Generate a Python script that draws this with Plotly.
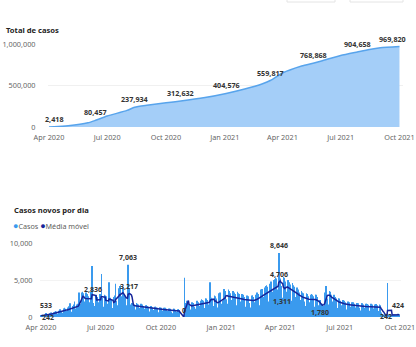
import plotly.graph_objects as go
import pandas as pd

# ---------------- DATA ----------------
# Total de casos (cumulative), key points
cum_dates = ["2020-04-01", "2020-04-09", "2020-05-01", "2020-06-01", "2020-06-13",
             "2020-07-01", "2020-08-01", "2020-08-13", "2020-09-01", "2020-10-01",
             "2020-10-24", "2020-12-01", "2021-01-03", "2021-02-01", "2021-03-01",
             "2021-03-13", "2021-04-01", "2021-05-01", "2021-05-19", "2021-06-01",
             "2021-07-01", "2021-07-27", "2021-08-15", "2021-09-01", "2021-10-01"]
cum_vals = [800, 2418, 14000, 50000, 80457,
            132000, 200000, 237934, 262000, 292000,
            312632, 355000, 404576, 458000, 522000,
            559817, 650000, 735000, 768868, 795000,
            862000, 904658, 935000, 955000, 969820]

top_lbl_dates = ["2020-04-09", "2020-06-13", "2020-08-13", "2020-10-24", "2021-01-03",
                 "2021-03-13", "2021-05-19", "2021-07-27", "2021-10-01"]
top_lbl_vals = [2418, 80457, 237934, 312632, 404576, 559817, 768868, 904658, 969820]

# Casos novos por dia (daily, starting 2020-04-01)
casos = [
    180, 220, 300, 260, 150, 200, 330,
    420, 533, 380, 300, 190, 260, 450,
    520, 610, 560, 430, 280, 350, 640,
    700, 820, 760, 580, 360, 450, 850,
    900, 1050, 980, 760, 450, 590, 1100,
    1150, 1250, 1100, 850, 520, 640, 1300,
    1300, 1450, 1850, 1000, 600, 720, 1500,
    1500, 1700, 2100, 1150, 700, 850, 1700,
    1800, 2000, 3300, 3100, 1500, 1800, 3300,
    3400, 3200, 2900, 2100, 1200, 1500, 3300,
    3000, 3100, 2800, 2000, 1300, 1600, 3400,
    3100, 6900, 2800, 1900, 1100, 1500, 2900,
    3000, 2900, 2700, 2000, 1200, 1500, 3100,
    3000, 5800, 2600, 1900, 1100, 1400, 3000,
    2900, 2800, 2500, 1800, 1000, 1300, 4700,
    2600, 2500, 2300, 1600, 900, 1200, 2700,
    2800, 2900, 4500, 2200, 1300, 1600, 3500,
    3900, 4200, 4300, 2800, 1700, 2000, 4000,
    3300, 3000, 2700, 2000, 1300, 1600, 3800,
    7063, 3900, 2400, 1700, 900, 1100, 1900,
    1900, 1800, 1700, 1300, 800, 1000, 1900,
    1800, 1700, 1600, 1200, 700, 900, 1800,
    1700, 1600, 1500, 1100, 700, 800, 1600,
    1600, 1500, 1400, 1000, 650, 750, 1500,
    1500, 1400, 1300, 950, 600, 700, 1400,
    1400, 1300, 1250, 900, 550, 650, 1300,
    1300, 1250, 1150, 850, 500, 600, 1250,
    1250, 1200, 1100, 800, 480, 560, 1150,
    1150, 1100, 1000, 750, 450, 520, 1100,
    1100, 1050, 950, 700, 420, 500, 1050,
    1050, 950, 0, 0, 0, 0, 0,
    0, 0, 5300, 1900, 1200, 1300, 2200,
    1900, 1800, 1700, 1300, 800, 1000, 2000,
    2000, 1900, 1800, 1400, 900, 1100, 2100,
    2200, 2100, 2000, 1500, 900, 1100, 2200,
    2400, 2300, 2200, 1600, 1000, 1200, 2500,
    2500, 2400, 2300, 1700, 1100, 1300, 4700,
    2700, 2600, 2500, 1800, 1200, 1500, 2900,
    2800, 2500, 1400, 1200, 1300, 1800, 3200,
    3300, 3000, 1500, 1800, 1600, 2200, 3800,
    3600, 3500, 3300, 2400, 1500, 1800, 3700,
    3500, 3400, 3200, 2300, 1400, 1700, 3500,
    3400, 3300, 3100, 2200, 1400, 1600, 3400,
    3200, 3100, 2900, 2100, 1300, 1500, 3100,
    3000, 2900, 2700, 2000, 1200, 1400, 2900,
    2900, 2800, 2600, 1900, 1100, 1300, 2800,
    2900, 2900, 2700, 2000, 1200, 1400, 3000,
    3200, 3300, 3100, 2300, 1400, 1600, 3500,
    3700, 3800, 3600, 2700, 1600, 1900, 4000,
    4200, 4300, 4100, 3000, 1800, 2100, 4500,
    4700, 4800, 4600, 3400, 2000, 2400, 5000,
    5100, 5300, 5200, 3700, 2200, 2600, 8646,
    6600, 5200, 4200, 3000, 1311, 2600, 5400,
    5300, 5100, 4800, 3400, 2000, 2400, 5000,
    4900, 4700, 4400, 3100, 1800, 2200, 4600,
    4300, 4100, 3800, 2700, 1600, 1900, 4000,
    3700, 3500, 3300, 2300, 1400, 1700, 3500,
    3300, 3200, 3000, 2100, 1300, 1500, 3200,
    3100, 3000, 2800, 2000, 1200, 1400, 3000,
    3100, 3000, 2800, 2000, 1200, 1400, 3000,
    3000, 2700, 2300, 1600, 900, 1000, 2300,
    1900, 1700, 1800, 1500, 1100, 1500, 3300,
    3900, 4200, 3800, 2500, 1400, 1700, 3500,
    3400, 3300, 3000, 2100, 1200, 1400, 3000,
    2900, 2700, 2500, 1800, 1000, 1200, 2500,
    2500, 2400, 2200, 1600, 900, 1100, 2300,
    2300, 2200, 2000, 1500, 850, 1000, 2100,
    2100, 2000, 1900, 1400, 800, 950, 2000,
    2000, 1900, 1800, 1300, 750, 900, 1900,
    1900, 1850, 1750, 1250, 720, 870, 1850,
    1850, 1800, 1700, 1200, 700, 850, 1800,
    1800, 1750, 1650, 1200, 680, 830, 1750,
    1780, 1700, 1600, 1150, 660, 800, 1700,
    1750, 1700, 1600, 1150, 650, 800, 1700,
    1600, 600, 300, 250, 150, 200, 350,
    300, 250, 300, 250, 4600, 200, 350,
    350, 300, 280, 250, 150, 200, 350,
    330, 300, 280, 240, 150, 200, 424,
    380, 350,
]
start_date = "2020-04-01"

bot_lbl_dates = ["2020-04-09", "2020-04-12", "2020-06-19", "2020-08-12", "2020-08-13",
                 "2020-11-05", "2021-03-30", "2021-03-30", "2021-04-04", "2021-06-01",
                 "2021-09-10", "2021-09-28"]
bot_lbl_vals = [533, 242, 2836, 7063, 3217, 0, 8646, 4706, 1311, 1780, 242, 424]

titles = ["Total de casos", "Casos novos por dia"]
series_names = ["Casos", "Média móvel"]

# ---------------- FIGURE ----------------
W, H = 416, 347
FONT = "Noto Sans"
C_BAR = "#3A9AEE"
C_MA = "#16259A"
C_AREA_FILL = "#A4CEF8"
C_AREA_LINE = "#58A4EC"
C_TICK = "#666666"
C_LBL = "#333333"


def px_x(p):
    return p / W


def px_y(p):
    return (H - p) / H


dates = pd.date_range(start_date, periods=len(casos), freq="D")
ma = pd.Series(casos).rolling(7, min_periods=1).mean()

fig = go.Figure()

fig.add_trace(go.Scatter(
    x=pd.to_datetime(cum_dates), y=cum_vals, mode="lines",
    line=dict(color=C_AREA_LINE, width=1.5, shape="spline", smoothing=0.6),
    fill="tozeroy", fillcolor=C_AREA_FILL, xaxis="x", yaxis="y",
    hoverinfo="skip", showlegend=False))

fig.add_trace(go.Bar(
    x=dates, y=casos, marker=dict(color=C_BAR, line=dict(width=0)),
    xaxis="x2", yaxis="y2", name=series_names[0], showlegend=False))

fig.add_trace(go.Scatter(
    x=dates, y=ma, mode="lines", line=dict(color=C_MA, width=1.5),
    xaxis="x2", yaxis="y2", name=series_names[1], showlegend=False))

tickfont = dict(family=FONT, size=7.3, color=C_TICK)

common_x = dict(tickformat="%b %Y", dtick="M3", tick0="2020-04-01",
                ticks="outside", tickcolor="rgba(0,0,0,0)",
                showgrid=False, showline=False, zeroline=False,
                tickfont=tickfont, automargin=False, ticklabeloverflow="allow")
common_y = dict(tickformat=",", ticks="outside", tickcolor="rgba(0,0,0,0)",
                showgrid=True, gridwidth=1, zeroline=False, showline=False,
                tickfont=tickfont, automargin=False, ticklabeloverflow="allow")

fig.update_layout(
    width=W, height=H, autosize=False,
    margin=dict(l=0, r=0, t=0, b=0, autoexpand=False),
    paper_bgcolor="white", plot_bgcolor="white",
    bargap=0.25,
    xaxis=dict(domain=[px_x(48), px_x(403)],
               range=["2020-03-30 12:00", "2021-10-06 12:00"],
               ticklen=3, anchor="y", **common_x),
    yaxis=dict(domain=[px_y(127), px_y(44)], range=[0, 1000000],
               tickvals=[0, 500000, 1000000], ticklen=10,
               gridcolor="#F0F0F0", anchor="x", **common_y),
    xaxis2=dict(domain=[px_x(40), px_x(401)],
                range=["2020-03-30 12:00", "2021-10-02 12:00"],
                ticklen=3, anchor="y2", **common_x),
    yaxis2=dict(domain=[px_y(317), px_y(243)], range=[0, 10000],
                tickvals=[0, 5000, 10000], ticklen=5,
                gridcolor="#F3F3F3", anchor="x2", **common_y),
)

ann = []
# titles
ann.append(dict(text="<b>" + titles[0] + "</b>", x=px_x(4), y=px_y(30),
                xref="paper", yref="paper", xanchor="left", yanchor="middle",
                showarrow=False, font=dict(family=FONT, size=7.6, color="#252423")))
ann.append(dict(text="<b>" + titles[1] + "</b>", x=px_x(12), y=px_y(210),
                xref="paper", yref="paper", xanchor="left", yanchor="middle",
                showarrow=False, font=dict(family=FONT, size=7.6, color="#252423")))
# legend
ann.append(dict(
    text=("<span style='color:%s;font-size:9px'>●</span>%s "
          "<span style='color:%s;font-size:9px'>●</span>%s"
          % (C_BAR, series_names[0], C_MA, series_names[1])),
    x=px_x(11), y=px_y(225), xref="paper", yref="paper",
    xanchor="left", yanchor="middle", showarrow=False,
    font=dict(family=FONT, size=7.2, color="#605E5C")))

# top data labels
for i, (d, v) in enumerate(zip(top_lbl_dates, top_lbl_vals)):
    xs = -7 if i == len(top_lbl_dates) - 1 else 0
    ann.append(dict(text="<b>{:,}</b>".format(v), x=d, y=v, xref="x", yref="y",
                    showarrow=False, yshift=8, xshift=xs,
                    font=dict(family=FONT, size=7.2, color=C_LBL)))

# bottom data labels
bot_shifts = [8, -2, 7, 7, 7, 7, 8, 8, 6, -9, -1, 8]
for d, v, s in zip(bot_lbl_dates, bot_lbl_vals, bot_shifts):
    ann.append(dict(text="<b>{:,}</b>".format(v), x=d, y=v, xref="x2", yref="y2",
                    showarrow=False, yshift=s,
                    font=dict(family=FONT, size=7, color=C_LBL)))

fig.update_layout(annotations=ann)

# faint buttons at top edge (cut off)
for x0, x1 in [(287, 335), (350, 403)]:
    fig.add_shape(type="rect", xref="paper", yref="paper",
                  x0=px_x(x0), x1=px_x(x1), y0=px_y(2), y1=px_y(-10),
                  line=dict(color="#E4E4E4", width=1), fillcolor="white", layer="above")

fig.write_html("out.html")
